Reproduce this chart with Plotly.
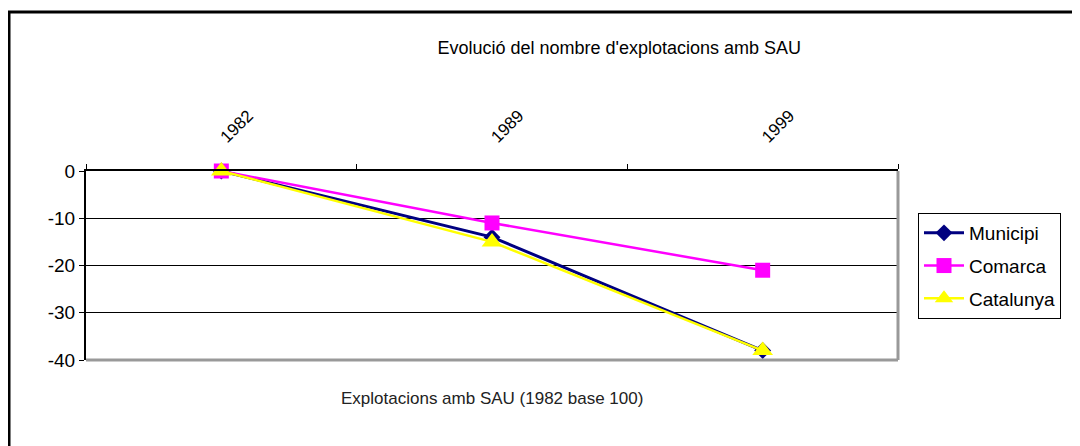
import plotly.graph_objects as go

years = ["1982", "1989", "1999"]
municipi = [0, -14, -38]
comarca = [0, -11, -21]
catalunya = [0, -15, -38]
y_ticks = [0, -10, -20, -30, -40]

FONT = "Liberation Sans Narrow, Arial Narrow, Liberation Sans, Arial, sans-serif"

fig = go.Figure()
fig.add_trace(go.Scatter(x=years, y=municipi, name="Municipi", mode="lines+markers",
                         legendgroup="a", cliponaxis=False,
                         line=dict(color="#000080", width=3),
                         marker=dict(symbol="diamond", size=13, color="#000080")))
fig.add_trace(go.Scatter(x=years, y=comarca, name="Comarca", mode="lines+markers",
                         legendgroup="b", cliponaxis=False,
                         line=dict(color="#FF00FF", width=2.5),
                         marker=dict(symbol="square", size=15, color="#FF00FF")))
fig.add_trace(go.Scatter(x=years, y=catalunya, name="Catalunya", mode="lines+markers",
                         legendgroup="c", cliponaxis=False,
                         line=dict(color="#FFFF00", width=2.5),
                         marker=dict(symbol="triangle-up", size=18, color="#FFFF00")))

# page has an 8px body offset; work in page coordinates and convert
OFF = 8
W, H = 1080 - OFF, 446 - OFF
L, T = 86 - OFF, 171 - OFF
R = W - (898 - OFF)
B = H - (360 - OFF)
pw, ph = W - L - R, H - T - B

def px(x):
    return (x - OFF - L) / pw

def py(y):
    return (H - B - (y - OFF)) / ph

fig.update_layout(
    width=W, height=H,
    margin=dict(l=L, r=R, t=T, b=B),
    paper_bgcolor="white", plot_bgcolor="white",
    font=dict(family=FONT, size=16, color="black"),
    title=dict(text="Evolució del nombre d'explotacions amb SAU",
               x=px(549), xanchor="center", y=1 - (48 - OFF) / H, yanchor="middle",
               font=dict(size=18, color="black")),
    showlegend=True,
    legend=dict(x=px(918), y=py(213), xanchor="left", yanchor="top",
                bordercolor="black", borderwidth=1, bgcolor="white",
                font=dict(size=19), tracegroupgap=5, itemwidth=40,
                itemsizing="trace"),
    xaxis=dict(type="category", side="top", range=[-0.5, 2.5],
               tickangle=-45, tickson="boundaries", ticks="outside", ticklen=5,
               tickcolor="black", showgrid=False, showline=True, linecolor="black",
               linewidth=2, ticklabelstandoff=16, tickfont=dict(size=17),
               zeroline=False),
    yaxis=dict(range=[-40, 0], tickvals=y_ticks, ticktext=[str(v) for v in y_ticks],
               ticks="outside", ticklen=5,
               tickcolor="black", showgrid=True, gridcolor="black", gridwidth=1,
               showline=True, linecolor="black", linewidth=2, zeroline=False,
               tickfont=dict(size=19)),
    shapes=[
        dict(type="line", xref="paper", yref="paper", x0=1, x1=1, y0=0, y1=1,
             line=dict(color="#999999", width=3)),
        dict(type="line", xref="paper", yref="paper", x0=0, x1=1, y0=0, y1=0,
             line=dict(color="#999999", width=3)),
        dict(type="rect", xref="paper", yref="paper", x0=px(9), x1=px(1100),
             y0=py(470), y1=py(12), line=dict(color="black", width=3), layer="below"),
    ],
    annotations=[
        dict(text="Explotacions amb SAU (1982 base 100)", xref="paper", yref="paper",
             x=px(492), y=py(398), xanchor="center", yanchor="middle",
             showarrow=False, font=dict(size=17, color="#222222")),
    ],
)

fig.write_html("out.html")
